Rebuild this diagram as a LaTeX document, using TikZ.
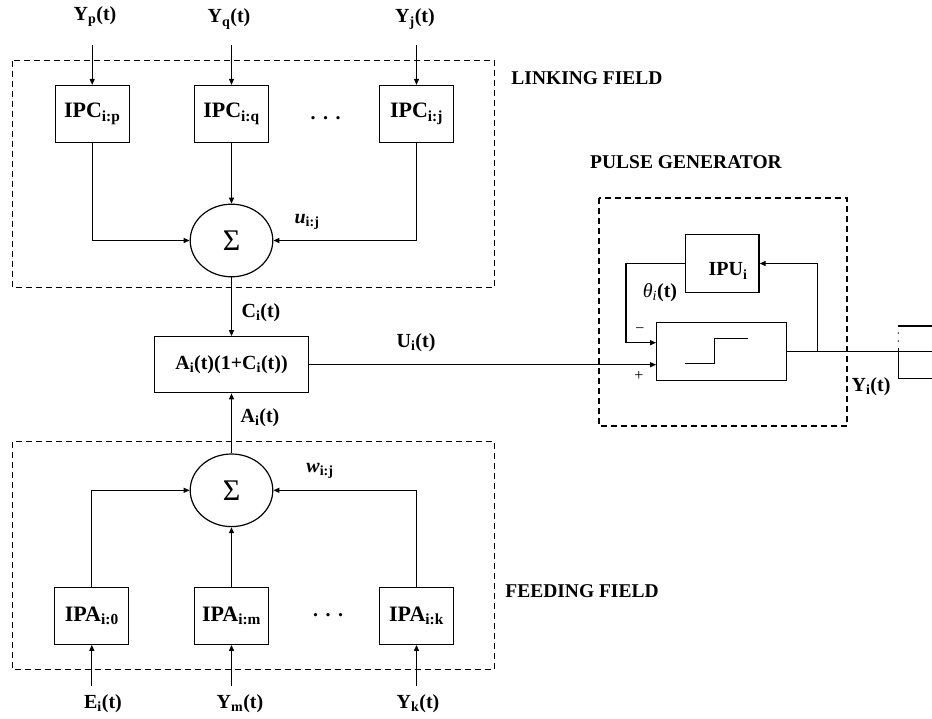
\documentclass[tikz,border=0pt]{standalone}
\usepackage{fontspec}
\setmainfont{Liberation Serif}
\usetikzlibrary{arrows.meta,shapes.geometric}
\begin{document}
\begin{tikzpicture}[x=1pt,y=-1pt,
  line width=1.2pt,
  >={Triangle[length=6pt,width=5pt]},
  blk/.style={draw, rectangle, minimum width=74pt, minimum height=57pt, inner sep=0pt, font=\fontsize{22}{26}\selectfont\bfseries},
  sumnode/.style={draw, ellipse, minimum width=82.6pt, minimum height=72.6pt, inner sep=0pt, font=\fontsize{30}{34}\selectfont},
  lbl/.style={font=\fontsize{20}{24}\selectfont\bfseries, inner sep=0pt},
  ttl/.style={font=\fontsize{19.5}{22}\selectfont\bfseries, inner sep=0pt},
  sgn/.style={font=\fontsize{16}{18}\selectfont, inner sep=0pt},
  field/.style={draw, dash pattern=on 6pt off 4pt, line width=1.2pt},
]
\useasboundingbox (0,0) rectangle (932,719);

% ---------- linking field ----------
\draw[field] (12.3,60.7) rectangle (494.3,287.3);
\node[ttl] (tlink) at (587,78) {LINKING FIELD};
\node[blk] (ipcp) at (92.2,114) {IPC\textsubscript{i:p}};
\node[blk] (ipcq) at (231.5,114) {IPC\textsubscript{i:q}};
\node[blk] (ipcj) at (416.5,114) {IPC\textsubscript{i:j}};
\node[lbl] (dotsc) at (325.5,118) {.\hspace{7.5pt}.\hspace{7.5pt}.};
\node[lbl] (lyp) at (95,17) {Y\textsubscript{p}(t)};
\node[lbl] (lyq) at (229,19) {Y\textsubscript{q}(t)};
\node[lbl] (lyj) at (415,19) {Y\textsubscript{j}(t)};
\draw[->] ([yshift=40pt]ipcp.north) -- (ipcp.north);
\draw[->] ([yshift=40pt]ipcq.north) -- (ipcq.north);
\draw[->] ([yshift=40pt]ipcj.north) -- (ipcj.north);
\node[sumnode] (s1) at (231.5,240.5) {Σ};
\draw[->] (ipcp.south) |- (s1.west);
\draw[->] (ipcq.south) -- (s1.north);
\draw[->] (ipcj.south) |- (s1.east);
\node[lbl] (lu) at (307,222) {\textit{u}\textsubscript{i:j}};

% ---------- modulation ----------
\node[draw, rectangle, minimum width=154.3pt, minimum height=56pt, inner sep=0pt, font=\fontsize{20}{24}\selectfont\bfseries] (abox) at (231.5,364.7) {A\textsubscript{i}(t)(1+C\textsubscript{i}(t))};
\draw[->] (s1.south) -- (abox.north);
\node[lbl] (lc) at (261,313) {C\textsubscript{i}(t)};
\node[lbl] (lui) at (416,343) {U\textsubscript{i}(t)};
\node[lbl] (la) at (260,418) {A\textsubscript{i}(t)};

% ---------- feeding field ----------
\draw[field] (12.3,441.7) rectangle (494.3,669.3);
\node[ttl] (tfeed) at (582,591) {FEEDING FIELD};
\node[sumnode] (s2) at (231.5,490.3) {Σ};
\draw[->] (s2.north) -- (abox.south);
\node[blk] (ipa0) at (91.8,615.8) {IPA\textsubscript{i:0}};
\node[blk] (ipam) at (231.5,615.8) {IPA\textsubscript{i:m}};
\node[blk] (ipak) at (416.5,615.8) {IPA\textsubscript{i:k}};
\node[lbl] (dotsa) at (328,615) {.\hspace{7.5pt}.\hspace{7.5pt}.};
\draw[->] (ipa0.north) |- (s2.west);
\draw[->] (ipam.north) -- (s2.south);
\draw[->] (ipak.north) |- (s2.east);
\node[lbl] (lw) at (320,471) {\textit{w}\textsubscript{i:j}};
\draw[->] ([yshift=-41pt]ipa0.south) -- (ipa0.south);
\draw[->] ([yshift=-41pt]ipam.south) -- (ipam.south);
\draw[->] ([yshift=-41pt]ipak.south) -- (ipak.south);
\node[lbl] (le) at (103,704) {E\textsubscript{i}(t)};
\node[lbl] (lym) at (240,704) {Y\textsubscript{m}(t)};
\node[lbl] (lyk) at (418,704) {Y\textsubscript{k}(t)};

% ---------- pulse generator ----------
\draw[field] (599,198) rectangle (847,426);
\node[ttl] (tpulse) at (686,162) {PULSE GENERATOR};
\node[draw, rectangle, minimum width=73.7pt, minimum height=57.3pt, inner sep=0pt] (ipu) at (722.2,263.5) {};
\node[lbl] (ipul) at (728,271) {IPU\textsubscript{i}};
\node[draw, rectangle, minimum width=130pt, minimum height=58.3pt, inner sep=0pt] (thr) at (721.7,351.3) {};
\draw (685,363.3) -- (714.7,363.3) -- (714.7,338.3) -- (747.7,338.3);
\draw[->] (abox.east) -- (abox.east -| thr.west);
\coordinate (mfb) at (626,342.7);
\draw[->] (ipu.west) -| (mfb) -- (mfb -| thr.west);
\coordinate (outR) at (932,351.3);
\draw (thr.east) -- (outR);
\coordinate (br) at (817.7,351.3);
\draw[->] (br) |- (ipu.east);
\node[lbl] (ltheta) at (660,293) {{\mdseries\itshape θ\textsubscript{i}}(t)};
\node[sgn] (lminus) at (640,331) {−};
\node[sgn] (lplus) at (639,376) {+};
\node[lbl] (lyi) at (871,387) {Y\textsubscript{i}(t)};

% ---------- partial next block ----------
\draw (932,326) -- (898.3,326);
\fill (898.3,333) circle (0.8);
\fill (898.3,341) circle (0.8);
\draw (898.3,348) -- (898.3,378.5) -- (932,378.5);
\end{tikzpicture}
\end{document}
